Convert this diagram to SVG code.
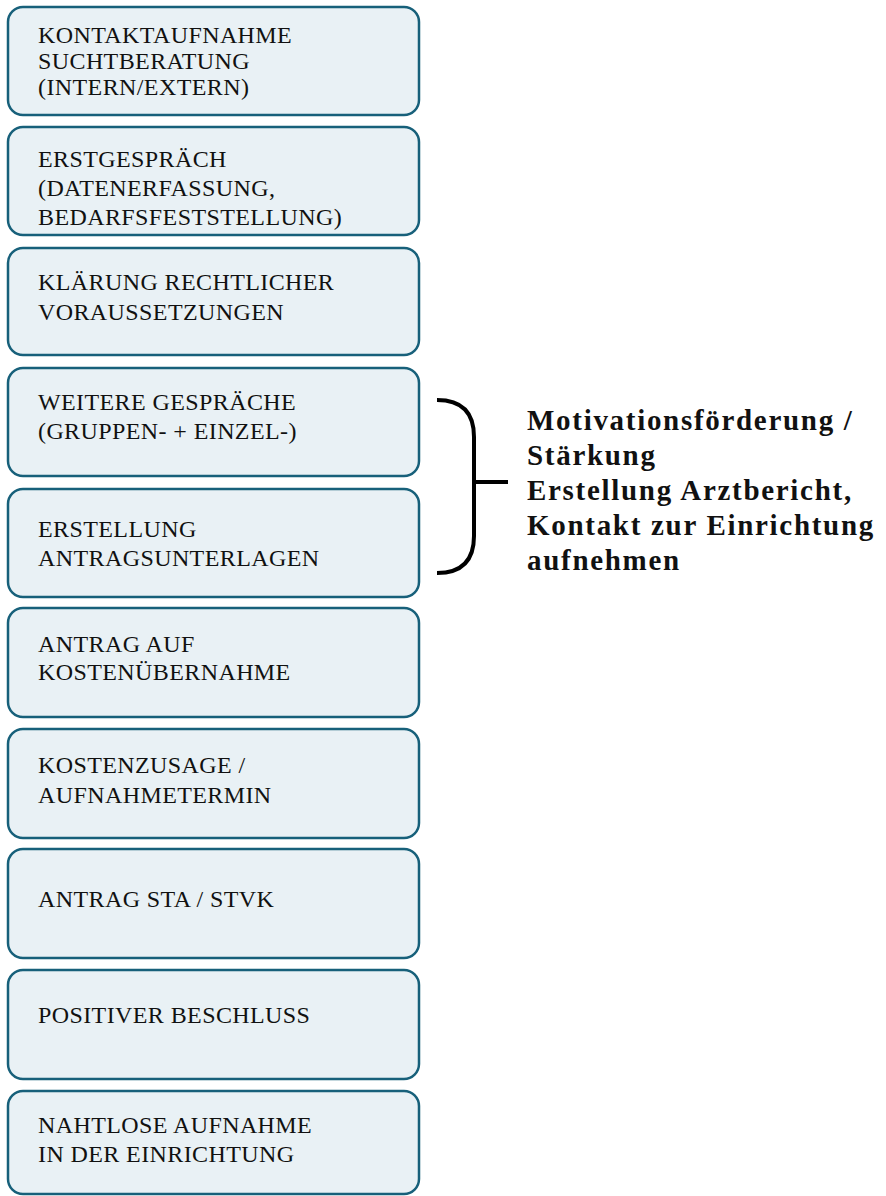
<svg xmlns="http://www.w3.org/2000/svg" width="886" height="1196" viewBox="0 0 886 1196">
<style>
.box{fill:#e9f1f5;stroke:#17607a;stroke-width:2.5}
.t{font-family:"Liberation Serif","Times New Roman",serif;font-size:24px;fill:#111;letter-spacing:0.4px}
.b{font-family:"Liberation Serif","Times New Roman",serif;font-size:29px;font-weight:bold;fill:#111;letter-spacing:1.7px}
.br{fill:none;stroke:#000;stroke-width:4}
</style>
<rect width="886" height="1196" fill="#fff"/>
<g id="n1"><rect class="box" x="8" y="7" width="411" height="108" rx="15"/><text class="t" x="38" y="43">KONTAKTAUFNAHME</text><text class="t" x="38" y="69">SUCHTBERATUNG</text><text class="t" x="38" y="95">(INTERN/EXTERN)</text></g>
<g id="n2"><rect class="box" x="8" y="127" width="411" height="108" rx="15"/><text class="t" x="38" y="167">ERSTGESPRÄCH</text><text class="t" x="38" y="196">(DATENERFASSUNG,</text><text class="t" x="38" y="225">BEDARFSFESTSTELLUNG)</text></g>
<g id="n3"><rect class="box" x="8" y="248" width="411" height="107" rx="15"/><text class="t" x="38" y="290">KLÄRUNG RECHTLICHER</text><text class="t" x="38" y="320">VORAUSSETZUNGEN</text></g>
<g id="n4"><rect class="box" x="8" y="368" width="411" height="108" rx="15"/><text class="t" x="38" y="410">WEITERE GESPRÄCHE</text><text class="t" x="38" y="439">(GRUPPEN- + EINZEL-)</text></g>
<g id="n5"><rect class="box" x="8" y="489" width="411" height="108" rx="15"/><text class="t" x="38" y="537">ERSTELLUNG</text><text class="t" x="38" y="566">ANTRAGSUNTERLAGEN</text></g>
<g id="n6"><rect class="box" x="8" y="608" width="411" height="109" rx="15"/><text class="t" x="38" y="652">ANTRAG AUF</text><text class="t" x="38" y="680">KOSTENÜBERNAHME</text></g>
<g id="n7"><rect class="box" x="8" y="729" width="411" height="109" rx="15"/><text class="t" x="38" y="773">KOSTENZUSAGE /</text><text class="t" x="38" y="803">AUFNAHMETERMIN</text></g>
<g id="n8"><rect class="box" x="8" y="849" width="411" height="109" rx="15"/><text class="t" x="38" y="907">ANTRAG STA / STVK</text></g>
<g id="n9"><rect class="box" x="8" y="970" width="411" height="109" rx="15"/><text class="t" x="38" y="1023">POSITIVER BESCHLUSS</text></g>
<g id="n10"><rect class="box" x="8" y="1091" width="411" height="103" rx="15"/><text class="t" x="38" y="1133">NAHTLOSE AUFNAHME</text><text class="t" x="38" y="1162">IN DER EINRICHTUNG</text></g>
<g id="connectors">
<path class="br" d="M437,400 Q474,400 474,437 L474,536 Q474,573 437,573"/>
<line class="br" x1="474" y1="482" x2="508" y2="482"/>
</g>
<g id="note">
<text class="b" x="527" y="430">Motivationsförderung /</text>
<text class="b" x="527" y="465">Stärkung</text>
<text class="b" x="527" y="500">Erstellung Arztbericht,</text>
<text class="b" x="527" y="535">Kontakt zur Einrichtung</text>
<text class="b" x="527" y="570">aufnehmen</text>
</g>
</svg>
